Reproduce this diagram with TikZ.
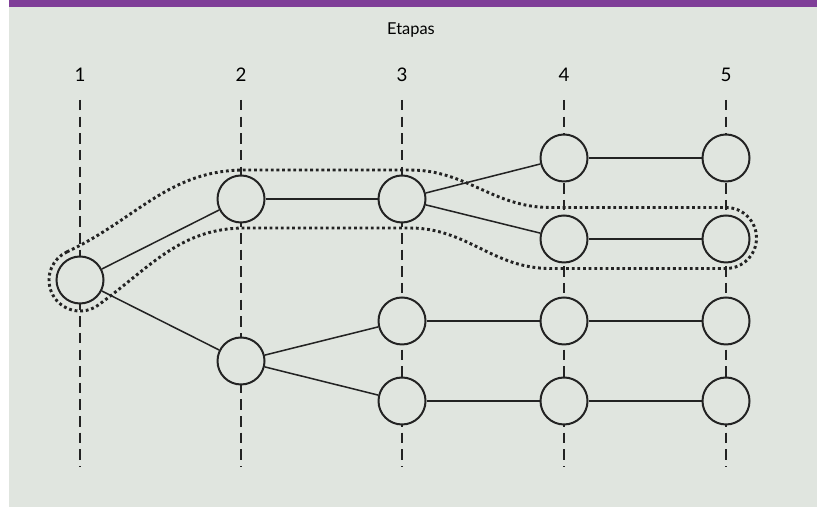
\documentclass[tikz,border=0pt]{standalone}
\usepackage{fontspec}
\setmainfont{Lato}
\usepackage{tikz}
\definecolor{fondo}{RGB}{224,229,223}
\definecolor{barra}{RGB}{127,62,152}
\definecolor{trazo}{RGB}{35,35,35}

\begin{document}
\begin{tikzpicture}[x=0.03cm,y=0.03cm,
    estado/.style={draw=trazo,circle,fill=fondo,line width=1.7pt,inner sep=0,minimum size=1.41cm},
    arco/.style={draw=trazo,line width=1.3pt},
    guia/.style={draw=trazo,line width=1.4pt,dash pattern=on 8.9pt off 5.3pt},
    ruta/.style={draw=trazo,line width=2.5pt,dash pattern=on 2.4pt off 2.4pt},
    etiqueta/.style={anchor=base,font=\fontsize{16}{18}\selectfont}]
      \useasboundingbox (0,0) rectangle (817,507);
      \fill[fondo] (0,0) rectangle (817,507);
      \fill[white] (0,0) rectangle (9,507);
      \fill[barra] (9,499.5) rectangle (817,507);

      \node[anchor=base,font=\fontsize{14}{16}\selectfont](titulo) at (411,472) {Etapas};
      \node[etiqueta](l1) at (80, 425) {1};
      \node[etiqueta](l2) at (241, 425) {2};
      \node[etiqueta](l3) at (402, 425) {3};
      \node[etiqueta](l4) at (564, 425) {4};
      \node[etiqueta](l5) at (726, 425) {5};

      % lineas de cada etapa
      \coordinate (t1) at (80, 407);  \coordinate (b1) at (80, 40);
      \coordinate (t2) at (241, 407); \coordinate (b2) at (241, 40);
      \coordinate (t3) at (402, 407); \coordinate (b3) at (402, 40);
      \coordinate (t4) at (564, 407); \coordinate (b4) at (564, 40);
      \coordinate (t5) at (726, 407); \coordinate (b5) at (726, 40);
      \draw[guia] (t1) -- (b1);
      \draw[guia] (t2) -- (b2);
      \draw[guia] (t3) -- (b3);
      \draw[guia] (t4) -- (b4);
      \draw[guia] (t5) -- (b5);

      % camino marcado
      \draw[ruta] (80,227) ++(115:31) to[out=25,in=180] (245,337) -- (410,337)
        to[out=0,in=180] (550,299.5) -- (726,299.5) arc (90:-90:30.5)
        -- (550,238.5) to[out=180,in=0] (410,279) -- (245,279)
        to[out=180,in=36] (98.2,201.9) arc (-54:-245:31) -- cycle;

      \node[estado](s1) at (80, 227) {};
      \node[estado](s2a) at (241, 308) {};
      \node[estado](s2b) at (241, 146) {};
      \node[estado](s3a) at (402, 308) {};
      \node[estado](s3b) at (402, 186) {};
      \node[estado](s3c) at (402, 106) {};
      \node[estado](s4a) at (564, 349) {};
      \node[estado](s4b) at (564, 268) {};
      \node[estado](s4c) at (564, 186) {};
      \node[estado](s4d) at (564, 106) {};
      \node[estado](s5a) at (726, 349) {};
      \node[estado](s5b) at (726, 268) {};
      \node[estado](s5c) at (726, 186) {};
      \node[estado](s5d) at (726, 106) {};

      \draw[arco] (s1) -- (s2a);
      \draw[arco] (s1) -- (s2b);
      \draw[arco] (s2a) -- (s3a);
      \draw[arco] (s2b) -- (s3b);
      \draw[arco] (s2b) -- (s3c);
      \draw[arco] (s3a) -- (s4a);
      \draw[arco] (s3a) -- (s4b);
      \draw[arco] (s3b) -- (s4c);
      \draw[arco] (s3c) -- (s4d);
      \draw[arco] (s4a) -- (s5a);
      \draw[arco] (s4b) -- (s5b);
      \draw[arco] (s4c) -- (s5c);
      \draw[arco] (s4d) -- (s5d);
    \end{tikzpicture}
\end{document}
